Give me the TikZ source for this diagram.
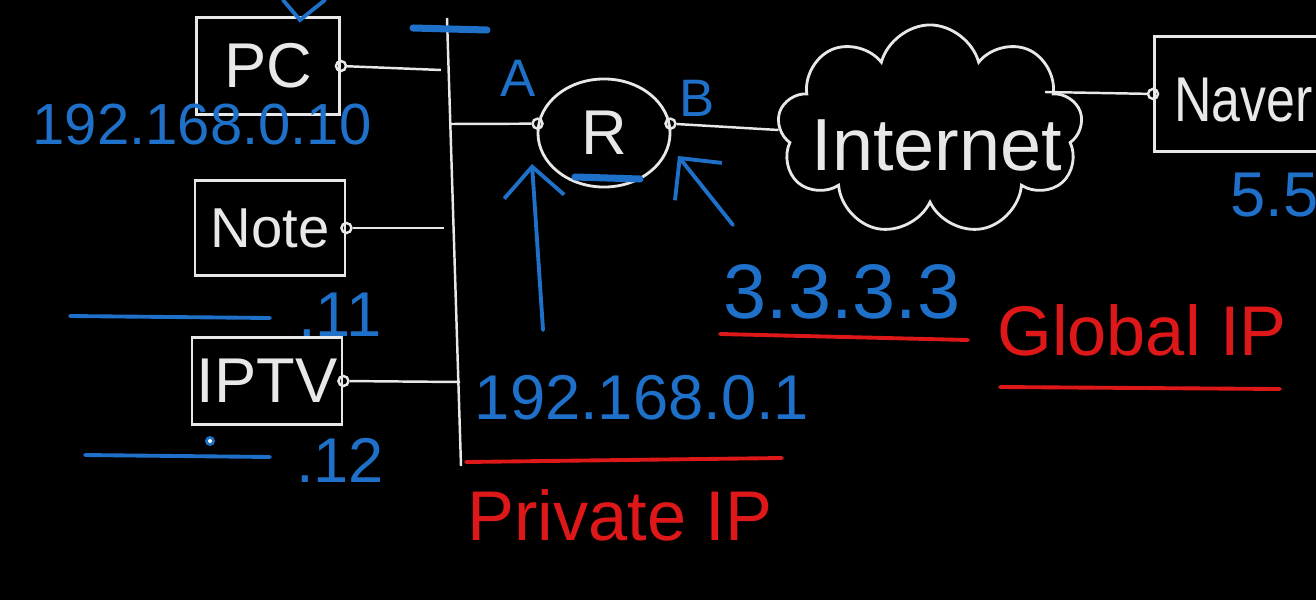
\documentclass[tikz,border=0pt]{standalone}
\usepackage{fontspec}
\setmainfont{Liberation Sans}
\usetikzlibrary{shapes.geometric,shapes.symbols,arrows.meta}
\definecolor{chalkwhite}{RGB}{232,232,232}
\definecolor{penblue}{RGB}{30,112,200}
\definecolor{penred}{RGB}{222,24,24}

\begin{document}
\begin{tikzpicture}[x=0.01cm, y=-0.01cm,
  wire/.style={chalkwhite, line width=0.7pt},
  devbox/.style={draw=chalkwhite, line width=0.8pt, rectangle, inner sep=0pt,
    text=chalkwhite, font=\fontsize{18}{20}\selectfont},
  port/.style={circle, draw=chalkwhite, line width=0.7pt, inner sep=0pt, minimum size=0.1cm},
  devtext/.style={text=chalkwhite, font=\fontsize{18}{20}\selectfont},
  bluetext/.style={text=penblue, font=\fontsize{18}{20}\selectfont},
  redtext/.style={text=penred, font=\fontsize{20}{22}\selectfont},
  blueline/.style={penblue, line width=1.1pt, line cap=round},
  redline/.style={penred, line width=1.1pt, line cap=round},
  pointer/.style={blueline, -{Straight Barb[length=0.3cm, width=0.6cm]}}
]
  % blackboard
  \fill[black] (0,0) rectangle (1316,600);
  \useasboundingbox (0,0) rectangle (1316,600);
  \clip (0,0) rectangle (1316,600);

  % hosts on the private side
  \node[devbox, minimum width=1.43cm, minimum height=0.97cm] (pc) at (268,66) {PC};
  \node[devbox, minimum width=1.5cm, minimum height=0.95cm,
    font=\fontsize{16}{18}\selectfont] (note) at (270,228) {Note};
  \node[devbox, minimum width=1.5cm, minimum height=0.87cm] (iptv) at (267,381) {IPTV};
  \node[port] (pcport) at (pc.east) {};
  \node[port] (noteport) at (note.east) {};
  \node[port] (iptvport) at (iptv.east) {};

  % the LAN bus
  \coordinate (bustop) at (447,18);
  \coordinate (busbot) at (461,466);
  \draw[wire] (bustop) -- (busbot);
  \coordinate (tapPC) at (441,70);
  \coordinate (tapNote) at (444,228);
  \coordinate (tapTV) at (460,382);
  \coordinate (tapR) at (449,124);
  \draw[wire] (pcport) -- (tapPC);
  \draw[wire] (noteport) -- (tapNote);
  \draw[wire] (iptvport) -- (tapTV);

  % router with its two interfaces
  \node[draw=chalkwhite, ellipse, line width=0.8pt, minimum width=1.32cm,
    minimum height=1.08cm, devtext] (router) at (604,133) {R};
  \node[port] (portA) at (router.172) {};
  \node[port] (portB) at (router.8) {};
  \draw[wire] (tapR) -- (portA);
  \node[bluetext, font=\fontsize{15}{16}\selectfont] (labA) at (518,78) {A};
  \node[bluetext, font=\fontsize{15}{16}\selectfont] (labB) at (697,98) {B};
  \draw[blueline, line width=2pt] (575,177) -- (640,179);

  % the internet
  \node[cloud, draw=chalkwhite, line width=0.8pt, cloud puffs=9, aspect=1.5,
    minimum width=3.05cm, minimum height=2.1cm, inner sep=0pt] (inet) at (930,130) {};
  \node[devtext, font=\fontsize{21}{24}\selectfont] (inettext) at (937,145) {Internet};
  \coordinate (inetout) at (1045,92);
  \draw[wire] (portB) -- (inet.west);

  % server on the far side
  \node[devbox, anchor=north west, minimum width=2.5cm, minimum height=1.15cm] (naver) at (1153,35) {};
  \node[port] (naverport) at (naver.west) {};
  \node[devtext, anchor=west, xscale=0.82] (navertext) at (1164,100) {Naver};
  \draw[wire] (inetout) -- (naverport);
  \node[bluetext, anchor=west] (ipNaver) at (1218,195) {5.5};

  % private addresses
  \node[bluetext, font=\fontsize{16.5}{18}\selectfont] (ipPC) at (202,125) {192.168.0.10};
  \node[bluetext] (ipNote) at (340,315) {.11};
  \node[bluetext] (ipTV) at (340,460) {.12};
  \draw[blueline] (70,316) -- (270,318);
  \draw[blueline] (85,455) -- (270,457);
  \fill[penblue] (210,441) circle (0.05cm);
  \fill[white] (210,441) circle (0.02cm);
  \node[bluetext] (ipA) at (642,398) {192.168.0.1};
  \draw[redline] (466,462) -- (782,458);
  \node[redtext] (privlabel) at (620,515) {Private IP};

  % global address
  \node[bluetext, font=\fontsize{22}{24}\selectfont] (ipB) at (842,292) {3.3.3.3};
  \draw[redline] (720,334) -- (968,340);
  \node[redtext] (globlabel) at (1142,330) {Global IP};
  \draw[redline] (1000,387) -- (1280,389);

  % pointers to the interfaces
  \coordinate (arrLtail) at (543,330);
  \coordinate (arrLtip) at (532,164);
  \coordinate (arrRtail) at (733,225);
  \coordinate (arrRtip) at (678,156);
  \draw[pointer] (arrLtail) -- (arrLtip);
  \draw[pointer] (arrRtail) -- (arrRtip);

  % marks at the top edge
  \draw[blueline] (283,0) -- (300,20) -- (325,0);
  \draw[blueline, line width=2pt] (413,28) -- (487,30);
\end{tikzpicture}
\end{document}
